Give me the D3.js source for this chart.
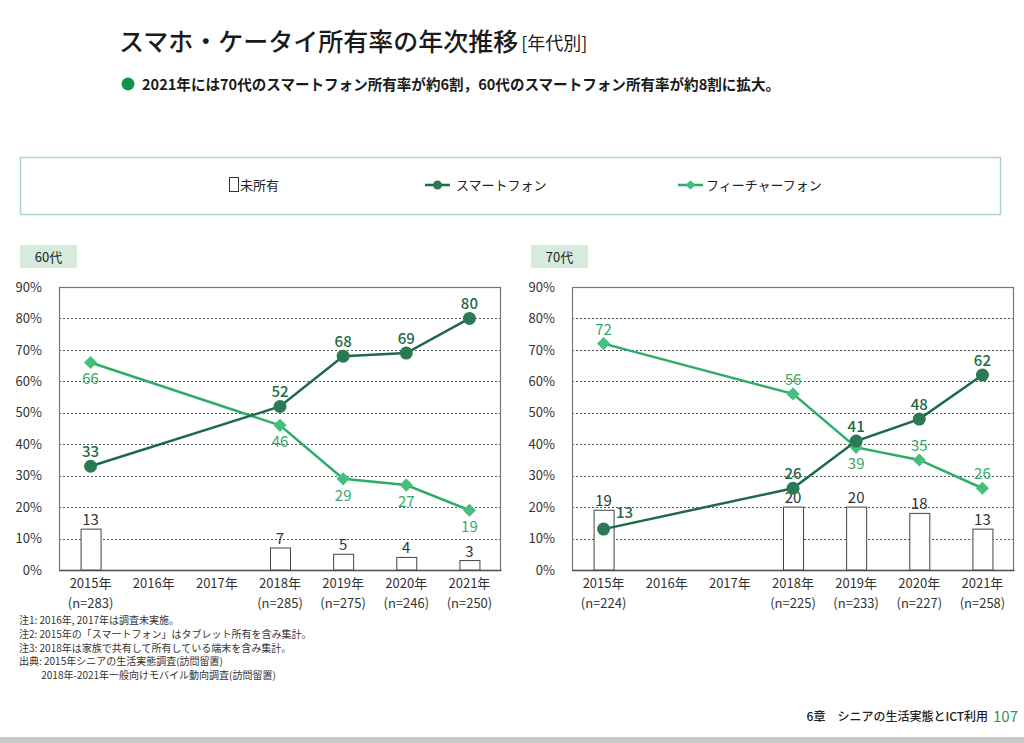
<!DOCTYPE html>
<html><head><meta charset="utf-8">
<script src="https://cdn.jsdelivr.net/npm/d3@7"></script>
<style>
html,body{margin:0;padding:0;background:#fff;}
svg{display:block;font-family:"Noto Sans CJK JP","Noto Sans",sans-serif;}
</style></head>
<body>
<svg id="c" width="1024" height="743"></svg>
<script>
// ---- data ----
const years = ["2015年","2016年","2017年","2018年","2019年","2020年","2021年"];
const n60 = ["(n=283)","","","(n=285)","(n=275)","(n=246)","(n=250)"];
const n70 = ["(n=224)","","","(n=225)","(n=233)","(n=227)","(n=258)"];
const smart60 = [33,null,null,52,68,69,80];
const feature60 = [66,null,null,46,29,27,19];
const none60 = [13,null,null,7,5,4,3];
const smart70 = [13,null,null,26,41,48,62];
const feature70 = [72,null,null,56,39,35,26];
const none70 = [19,null,null,20,20,18,13];
const yTicks = [0,10,20,30,40,50,60,70,80,90];
const notes = ["注1: 2016年, 2017年は調査未実施。","注2: 2015年の「スマートフォン」はタブレット所有を含み集計。","注3: 2018年は家族で共有して所有している端末を含み集計。","出典: 2015年シニアの生活実態調査(訪問留置)","　　 2018年-2021年一般向けモバイル動向調査(訪問留置)"];

const C_SMART = "#1d6a45", C_SMART_PT = "#2b7a55";
const C_FEAT = "#2fac6b", C_FEAT_PT = "#45bf7e", C_FEAT_TXT = "#37a86a";

const svg = d3.select("#c");

// title
const tt = svg.append("text").attr("x",119).attr("y",51).attr("font-size",25).attr("font-weight",500).attr("fill","#1a1a1a")
  .text("スマホ・ケータイ所有率の年次推移");
const tw = tt.node().getComputedTextLength();
svg.append("text").attr("x",119+tw+3).attr("y",50).attr("font-size",18).attr("fill","#1a1a1a").text("[年代別]");
svg.append("circle").attr("cx",128).attr("cy",84).attr("r",6.5).attr("fill","#12934a");
svg.append("text").attr("x",142).attr("y",90).attr("font-size",15).attr("font-weight",700).attr("fill","#1a1a1a")
  .attr("textLength",638).attr("lengthAdjust","spacingAndGlyphs")
  .text("2021年には70代のスマートフォン所有率が約6割，60代のスマートフォン所有率が約8割に拡大。");

// legend box
svg.append("rect").attr("x",20.5).attr("y",157.5).attr("width",980).attr("height",57).attr("fill","#fff")
  .attr("stroke","#a9d6bd").attr("stroke-width",1.5);
const ly = 185;
svg.append("rect").attr("x",229.5).attr("y",ly-7.5).attr("width",9).attr("height",14).attr("fill","#fff").attr("stroke","#333");
svg.append("text").attr("x",240).attr("y",ly+5).attr("font-size",13).attr("fill","#222").text("未所有");
svg.append("line").attr("x1",425).attr("x2",450).attr("y1",ly).attr("y2",ly).attr("stroke",C_SMART).attr("stroke-width",2.5);
svg.append("circle").attr("cx",437.5).attr("cy",ly).attr("r",4.5).attr("fill",C_SMART_PT);
svg.append("text").attr("x",456).attr("y",ly+5).attr("font-size",13).attr("fill","#222").text("スマートフォン");
svg.append("line").attr("x1",678).attr("x2",703).attr("y1",ly).attr("y2",ly).attr("stroke",C_FEAT).attr("stroke-width",2.5);
svg.append("path").attr("d",d3.symbol(d3.symbolDiamond2,60)()).attr("transform",`translate(690.5,${ly})`).attr("fill",C_FEAT_PT);
svg.append("text").attr("x",706).attr("y",ly+5).attr("font-size",13).attr("fill","#222").text("フィーチャーフォン");

function panel(opt){
  const {x0,x1,label,smart,feature,none,ns,featPos,smartPos} = opt;
  const top=287, bottom=570;
  const g = svg.append("g");
  // panel label
  g.append("rect").attr("x",opt.lx).attr("y",245).attr("width",57).attr("height",23).attr("fill","#d7ebdd");
  g.append("text").attr("x",opt.lx+28.5).attr("y",262).attr("text-anchor","middle").attr("font-size",13).attr("fill","#222").text(label);

  const x = d3.scaleBand().domain(years).range([x0,x1]);
  const y = d3.scaleLinear().domain([0,90]).range([bottom,top]);
  const cx = d=>x(d)+x.bandwidth()/2;

  // grid
  g.selectAll(".grid").data(yTicks.filter(t=>t>0&&t<90)).join("line")
    .attr("x1",x0).attr("x2",x1).attr("y1",d=>Math.round(y(d))+0.5).attr("y2",d=>Math.round(y(d))+0.5)
    .attr("stroke","#555").attr("stroke-width",1).attr("stroke-dasharray","2,2");
  // frame
  g.append("rect").attr("x",x0+0.5).attr("y",top+0.5).attr("width",x1-x0-1).attr("height",bottom-top)
    .attr("fill","none").attr("stroke","#777").attr("stroke-width",1.2);

  // y axis
  const ya = g.append("g").attr("transform",`translate(${x0-14},0)`)
    .call(d3.axisLeft(y).tickValues(yTicks).tickFormat(d=>d+"%").tickSize(0));
  ya.select(".domain").remove();
  ya.selectAll("text").attr("font-size",13).attr("fill","#333").attr("font-family","'Noto Sans CJK JP',sans-serif");

  // x axis
  const xa = g.append("g").attr("transform",`translate(0,${bottom})`)
    .call(d3.axisBottom(x).tickSize(0).tickPadding(9));
  xa.select(".domain").attr("stroke","#555").attr("stroke-width",1.5);
  xa.selectAll("text").attr("font-size",13).attr("fill","#333").attr("font-family","'Noto Sans CJK JP',sans-serif");
  g.selectAll(".nlab").data(years).join("text")
    .attr("x",d=>cx(d)).attr("y",bottom+38).attr("text-anchor","middle").attr("font-size",13).attr("fill","#333")
    .text((d,i)=>ns[i]);

  // bars
  const bw = 20;
  const bars = years.map((yr,i)=>({yr,v:none[i]})).filter(d=>d.v!=null);
  g.selectAll(".bar").data(bars).join("rect")
    .attr("x",d=>cx(d.yr)-bw/2+0.5).attr("y",d=>y(d.v)).attr("width",bw).attr("height",d=>bottom-y(d.v))
    .attr("fill","#fff").attr("stroke","#444").attr("stroke-width",1);
  g.selectAll(".blab").data(bars).join("text")
    .attr("x",d=>cx(d.yr)).attr("y",d=>y(d.v)-4).attr("text-anchor","middle").attr("font-size",15).attr("fill","#333")
    .text(d=>d.v);

  const line = d3.line().defined(d=>d.v!=null).x(d=>cx(d.yr)).y(d=>y(d.v));
  const fd = years.map((yr,i)=>({yr,v:feature[i],i})).filter(d=>d.v!=null);
  const sd = years.map((yr,i)=>({yr,v:smart[i],i})).filter(d=>d.v!=null);

  g.append("path").datum(fd).attr("d",line).attr("fill","none").attr("stroke",C_FEAT).attr("stroke-width",2.5);
  g.append("path").datum(sd).attr("d",line).attr("fill","none").attr("stroke",C_SMART).attr("stroke-width",2.5);

  g.selectAll(".fpt").data(fd).join("path")
    .attr("d",d3.symbol(d3.symbolDiamond2,110)())
    .attr("transform",d=>`translate(${cx(d.yr)},${y(d.v)})`).attr("fill",C_FEAT_PT);
  g.selectAll(".spt").data(sd).join("circle")
    .attr("cx",d=>cx(d.yr)).attr("cy",d=>y(d.v)).attr("r",6.5).attr("fill",C_SMART_PT);

  const off = p => p==="above"?{dx:0,dy:-9}:p==="below"?{dx:0,dy:22}:{dx:21,dy:-11};
  g.selectAll(".flab").data(fd).join("text")
    .attr("x",d=>cx(d.yr)+off(featPos[d.i]).dx).attr("y",d=>y(d.v)+off(featPos[d.i]).dy)
    .attr("text-anchor","middle").attr("font-size",15).attr("fill",C_FEAT_TXT).text(d=>d.v);
  g.selectAll(".slab").data(sd).join("text")
    .attr("x",d=>cx(d.yr)+off(smartPos[d.i]).dx).attr("y",d=>y(d.v)+off(smartPos[d.i]).dy)
    .attr("text-anchor","middle").attr("font-size",15).attr("font-weight",500).attr("fill",C_SMART).text(d=>d.v);
}

panel({x0:59,x1:501,lx:20,label:"60代",smart:smart60,feature:feature60,none:none60,ns:n60,
  featPos:["below",0,0,"below","below","below","below"],
  smartPos:["above",0,0,"above","above","above","above"]});
panel({x0:572,x1:1014,lx:531,label:"70代",smart:smart70,feature:feature70,none:none70,ns:n70,
  featPos:["above",0,0,"above","below","above","above"],
  smartPos:["right",0,0,"above","above","above","above"]});

// notes
svg.selectAll(".note").data(notes).join("text")
  .attr("x",19).attr("y",(d,i)=>624+i*13.8).attr("font-size",10).attr("fill","#333").text(d=>d);

// footer
svg.append("text").attr("x",988).attr("y",721).attr("text-anchor","end").attr("font-size",12).attr("font-weight",500).attr("fill","#222")
  .text("6章　シニアの生活実態とICT利用");
svg.append("text").attr("x",993).attr("y",722).attr("font-size",15).attr("fill","#1f9a55").text("107");
svg.append("rect").attr("x",0).attr("y",737).attr("width",1024).attr("height",6).attr("fill","#c9c9c9");
</script>
</body></html>
